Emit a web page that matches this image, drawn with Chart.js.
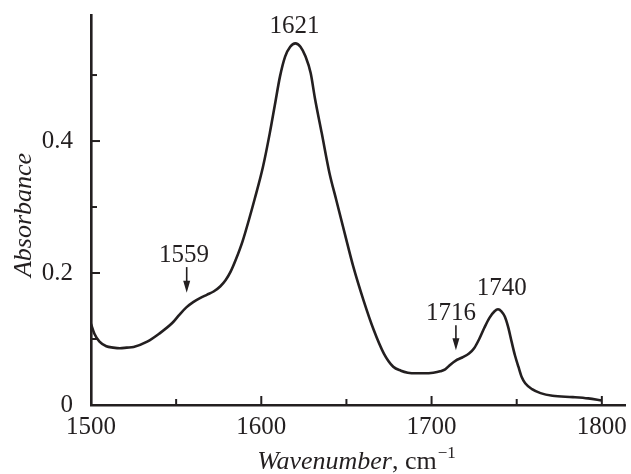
<!DOCTYPE html>
<html>
<head>
<meta charset="utf-8">
<script src="https://cdn.jsdelivr.net/npm/chart.js@4.4.1/dist/chart.umd.min.js"></script>
<style>
html,body{margin:0;padding:0;background:#fff;}
#wrap{width:631px;height:474px;}
</style>
</head>
<body>
<div id="wrap"><canvas id="c" width="631" height="474"></canvas></div>
<script>
// ---- data ----
const wavenumbers = [1500,1502,1505,1509,1513,1517,1521,1525,1533,1540,1548,1552,1556,1560,1564,1568,1572,1576,1579,1582,1585,1589,1593,1596,1601,1605,1608,1611,1614,1617,1620,1623,1626,1629,1631.5,1635.5,1640,1644,1649,1654,1660,1666,1672,1677.5,1682,1686,1691,1696,1701,1705,1708,1711,1714,1718,1722,1725,1728,1731,1734,1737,1739,1741,1743,1745,1747,1749,1751,1753,1755,1759,1764,1771,1783,1792,1800];
const absorbance = [0.123,0.108,0.096,0.089,0.087,0.086,0.087,0.088,0.096,0.108,0.125,0.137,0.148,0.156,0.162,0.167,0.172,0.180,0.189,0.202,0.220,0.248,0.283,0.311,0.361,0.412,0.455,0.498,0.528,0.543,0.548,0.543,0.528,0.503,0.465,0.412,0.352,0.311,0.260,0.210,0.159,0.114,0.078,0.058,0.052,0.049,0.048,0.048,0.049,0.051,0.054,0.061,0.067,0.072,0.078,0.086,0.100,0.117,0.132,0.142,0.145,0.142,0.134,0.118,0.096,0.075,0.058,0.042,0.033,0.024,0.018,0.014,0.012,0.010,0.007];
const xTickLabels = [1500,1600,1700,1800];
const yTickLabels = [0,0.2,0.4];
const peakLabels = ["1621","1559","1716","1740"];
const peakLabelX = [1619.5,1554.6,1711.4,1741.2];
const peakLabelY = [0.573,0.227,0.139,0.176];
const arrowX = [null,1556.2,1714.3,null];
const arrowTop = [null,0.209,0.121,null];
const arrowBottom = [null,0.170,0.083,null];
const xTitle = "Wavenumber";
const xUnit = ", cm";
const xUnitSup = "\u22121";
const yTitle = "Absorbance";

const INK = '#231f20';
const SERIF = '"Liberation Serif", "Times New Roman", serif';

const points = wavenumbers.map((w,i)=>({x:w,y:absorbance[i]}));

const decor = {
  id:'decor',
  afterDraw(chart){
    const ctx = chart.ctx, xs = chart.scales.x, ys = chart.scales.y;
    const area = chart.chartArea;
    ctx.save();
    ctx.strokeStyle = INK; ctx.fillStyle = INK; ctx.lineWidth = 2;
    // inward tick marks
    xs.ticks.forEach(t=>{
      const px = xs.getPixelForValue(t.value);
      const len = xTickLabels.includes(t.value) ? 9 : 6;
      ctx.beginPath(); ctx.moveTo(px, area.bottom); ctx.lineTo(px, area.bottom-len); ctx.stroke();
    });
    ys.ticks.forEach(t=>{
      const py = ys.getPixelForValue(t.value);
      const major = yTickLabels.some(v=>Math.abs(v-t.value)<1e-9);
      const len = major ? 9 : 6;
      ctx.beginPath(); ctx.moveTo(area.left, py); ctx.lineTo(area.left+len, py); ctx.stroke();
    });
    // peak labels
    ctx.font = '25px ' + SERIF;
    ctx.textAlign = 'center'; ctx.textBaseline = 'middle';
    peakLabels.forEach((s,i)=>{
      ctx.fillText(s, xs.getPixelForValue(peakLabelX[i]), ys.getPixelForValue(peakLabelY[i]));
      if (arrowX[i] !== null) {
        const ax = xs.getPixelForValue(arrowX[i]);
        const y1 = ys.getPixelForValue(arrowTop[i]);
        const y2 = ys.getPixelForValue(arrowBottom[i]);
        ctx.lineWidth = 1.6;
        ctx.beginPath(); ctx.moveTo(ax,y1); ctx.lineTo(ax,y2-8); ctx.stroke();
        ctx.beginPath(); ctx.moveTo(ax-3.5,y2-12); ctx.lineTo(ax+3.5,y2-12); ctx.lineTo(ax,y2); ctx.closePath(); ctx.fill();
      }
    });
    // y title
    ctx.save();
    ctx.translate(24, 215);
    ctx.rotate(-Math.PI/2);
    ctx.font = 'italic 26px ' + SERIF;
    ctx.textAlign = 'center'; ctx.textBaseline = 'middle';
    ctx.fillText(yTitle, 0, 0);
    ctx.restore();
    // x title
    const f1 = 'italic 26px ' + SERIF, f2 = '26px ' + SERIF, f3 = '17px ' + SERIF;
    ctx.textBaseline = 'alphabetic'; ctx.textAlign = 'left';
    ctx.font = f1; const w1 = ctx.measureText(xTitle).width;
    ctx.font = f2; const w2 = ctx.measureText(xUnit).width;
    ctx.font = f3; const w3 = ctx.measureText(xUnitSup).width;
    let x0 = 356 - (w1+w2+w3)/2; const base = 469;
    ctx.font = f1; ctx.fillText(xTitle, x0, base); x0 += w1;
    ctx.font = f2; ctx.fillText(xUnit, x0, base); x0 += w2;
    ctx.font = f3; ctx.fillText(xUnitSup, x0+1, base-11);
    ctx.restore();
  }
};

new Chart(document.getElementById('c'), {
  type:'line',
  data:{datasets:[{data:points, borderColor:INK, borderWidth:2.6, pointRadius:0, fill:false, cubicInterpolationMode:'monotone'}]},
  options:{
    responsive:false, animation:false,
    layout:{padding:{left:0,right:6,top:15,bottom:0}},
    plugins:{legend:{display:false}, tooltip:{enabled:false}},
    scales:{
      x:{type:'linear', min:1500, max:1813.6,
        afterFit(s){ s.height = 69; s.paddingLeft = 0; s.paddingRight = 0; },
        grid:{display:false},
        border:{display:true, color:INK, width:2.6},
        ticks:{stepSize:50, includeBounds:false, autoSkip:false, maxRotation:0, padding:-1,
          color:INK, font:{family:SERIF, size:25},
          callback:(v)=> xTickLabels.includes(v) ? String(v) : ''}
      },
      y:{type:'linear', min:0, max:0.591,
        afterFit(s){ s.width = 91; s.paddingTop = 0; s.paddingBottom = 0; },
        grid:{display:false},
        border:{display:true, color:INK, width:2.6},
        ticks:{stepSize:0.1, includeBounds:false, autoSkip:false, padding:10,
          color:INK, font:{family:SERIF, size:25},
          callback:(v)=> { const m = yTickLabels.find(t=>Math.abs(t-v)<1e-9); return m===undefined ? '' : String(m); }}
      }
    }
  },
  plugins:[decor]
});
</script>
</body>
</html>
